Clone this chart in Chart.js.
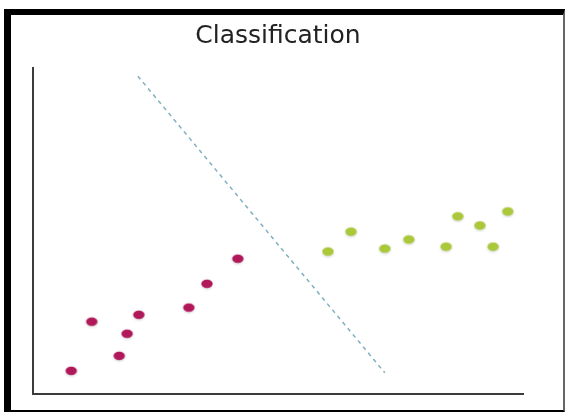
<!DOCTYPE html>
<html>
<head>
<meta charset="utf-8">
<script src="https://cdn.jsdelivr.net/npm/chart.js@4.4.1/dist/chart.umd.min.js"></script>
<style>
  html, body { margin: 0; padding: 0; background: #fff; }
  body { width: 566px; height: 412px; position: relative; overflow: hidden; }
  #wrap { position: absolute; left: 0; top: 0; width: 566px; height: 412px; }
  #frame {
    position: absolute; left: 4px; top: 9px; width: 561px; height: 403px;
    box-sizing: border-box; pointer-events: none;
    border-top: 6px solid #000; border-left: 7px solid #000;
    border-right: 2px solid #666; border-bottom: 2px solid #000;
  }
</style>
</head>
<body>
<div id="wrap"><canvas id="c" width="566" height="412"></canvas></div>
<div id="frame"></div>
<script>
// ---- data ----
const titleText = "Classification";
const classAX = [41.8, 35.5, 31.8, 21.6, 12.0, 19.2, 17.6, 7.8];
const classAY = [41.5, 33.8, 26.5, 24.3, 22.2, 18.5, 11.7, 7.1];
const classBX = [60.2, 64.9, 71.8, 76.7, 84.3, 86.7, 91.2, 93.9, 96.9];
const classBY = [43.7, 49.8, 44.6, 47.4, 45.2, 54.5, 51.7, 45.2, 56.0];
const boundaryX = [21.4, 71.8];
const boundaryY = [97.5, 6.5];

const toPts = (xs, ys) => xs.map((x, i) => ({ x: x, y: ys[i] }));

function dotImage(color) {
  const c = document.createElement('canvas');
  c.width = 18; c.height = 14;
  const g = c.getContext('2d');
  g.shadowColor = 'rgba(0,0,0,0.18)';
  g.shadowBlur = 3;
  g.shadowOffsetY = 1;
  g.fillStyle = color;
  g.beginPath();
  g.ellipse(9, 7, 5.7, 4.2, 0, 0, Math.PI * 2);
  g.fill();
  return c;
}

new Chart(document.getElementById('c'), {
  type: 'scatter',
  data: {
    datasets: [
      {
        type: 'line',
        data: toPts(boundaryX, boundaryY),
        borderColor: '#7fb0c2',
        borderWidth: 1.5,
        borderDash: [4, 4],
        pointRadius: 0,
        fill: false,
        order: 3
      },
      {
        data: toPts(classAX, classAY),
        pointStyle: dotImage('#b0185a'),
        pointRadius: 6,
        order: 1
      },
      {
        data: toPts(classBX, classBY),
        pointStyle: dotImage('#aac83a'),
        pointRadius: 6,
        order: 2
      }
    ]
  },
  options: {
    responsive: false,
    animation: false,
    layout: { padding: { left: 33, right: 43, top: 0, bottom: 18 } },
    plugins: {
      legend: { display: false },
      tooltip: { enabled: false },
      title: {
        display: true,
        text: titleText,
        color: '#222222',
        font: { family: 'DejaVu Sans', size: 25, weight: 'normal' },
        padding: { top: 21, bottom: 17 }
      }
    },
    scales: {
      x: {
        type: 'linear', min: 0, max: 100,
        ticks: { display: false, padding: 0 },
        grid: { display: false, drawTicks: false },
        border: { display: true, color: '#3c3c3c', width: 2 }
      },
      y: {
        type: 'linear', min: 0, max: 100,
        ticks: { display: false, padding: 0 },
        grid: { display: false, drawTicks: false },
        border: { display: true, color: '#3c3c3c', width: 2 }
      }
    }
  }
});
</script>
</body>
</html>
